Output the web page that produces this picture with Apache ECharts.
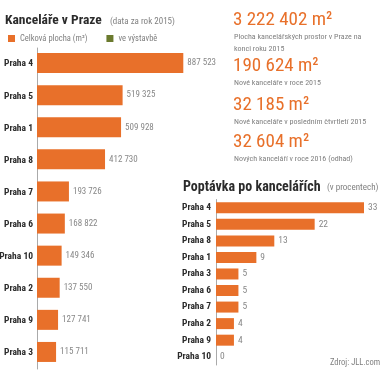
<!DOCTYPE html>
<html><head><meta charset="utf-8">
<script src="https://cdn.jsdelivr.net/npm/echarts@6/dist/echarts.min.js"></script>
<style>html,body{margin:0;padding:0;background:#fff}#c{width:384px;height:379px}</style>
</head><body><div id="c"></div>
<script>
var officeCats = ['Praha 4','Praha 5','Praha 1','Praha 8','Praha 7','Praha 6','Praha 10','Praha 2','Praha 9','Praha 3'];
var officeArea = [887523,519325,509928,412730,193726,168822,149346,137550,127741,115711];
var demandCats = ['Praha 4','Praha 5','Praha 8','Praha 1','Praha 3','Praha 6','Praha 7','Praha 2','Praha 9','Praha 10'];
var demandPct = [33,22,13,9,5,5,5,4,4,0];
var statValues = ['3 222 402 m²','190 624 m²','32 185 m²','32 604 m²'];
var statLabels = [['Plocha kancelářských prostor v Praze na','konci roku 2015'],['Nové kanceláře v roce 2015'],['Nové kanceláře v posledním čtvrtletí 2015'],['Nových kanceláří v roce 2016 (odhad)']];

var ORANGE = '#e8702a', GREEN = '#6b7a2e', GRAY = '#808080', DARK = '#2b2b2b';
var COND = '"Roboto Condensed",sans-serif';
function fmt(v){return String(v).replace(/\B(?=(\d{3})+(?!\d))/g,' ');}

var chart = echarts.init(document.getElementById('c'), null, {renderer:'canvas'});
var graphics = [
  {type:'text', left:5, top:14, style:{text:'Kanceláře v Praze', font:'bold 13.5px '+COND, fill:DARK}},
  {type:'text', left:110, top:17, style:{text:'(data za rok 2015)', font:'9px '+COND, fill:GRAY}},
  {type:'text', left:183, top:180, style:{text:'Poptávka po kancelářích', font:'bold 14px '+COND, fill:DARK}},
  {type:'text', left:327, top:183, style:{text:'(v procentech)', font:'9px '+COND, fill:GRAY}},
  {type:'text', left:330, top:358, style:{text:'Zdroj: JLL.com', font:'8.5px '+COND, fill:GRAY}}
];
var statY = [22, 68, 107, 144];
for (var i=0;i<statValues.length;i++){
  graphics.push({type:'text', left:233, top:statY[i]-11, style:{text:statValues[i], font:'19px '+COND, fill:ORANGE}});
  for (var j=0;j<statLabels[i].length;j++){
    graphics.push({type:'text', left:234, top:statY[i]+11+j*12, style:{text:statLabels[i][j], font:'8px '+COND, fill:GRAY}});
  }
}

chart.setOption({
  animation:false,
  textStyle:{fontFamily:COND},
  legend:{left:3, top:29, itemWidth:7, itemHeight:7, itemGap:19, icon:'rect',
    textStyle:{color:GRAY, fontSize:8.5, fontFamily:COND}, selectedMode:false,
    data:['Celková plocha (m²)','ve výstavbě']},
  graphic:graphics,
  grid:[
    {left:37, top:48, width:146.3, height:321, outerBoundsMode:'none', containLabel:false},
    {left:216, top:199.5, width:148, height:165.5, outerBoundsMode:'none', containLabel:false}
  ],
  xAxis:[
    {gridIndex:0, type:'value', min:0, max:887523, show:false},
    {gridIndex:1, type:'value', min:0, max:33, show:false}
  ],
  yAxis:[
    {gridIndex:0, type:'category', data:officeCats, inverse:true,
     axisLine:{lineStyle:{color:'#aaa'}}, axisTick:{show:false},
     axisLabel:{color:DARK, fontWeight:'bold', fontSize:9.5, margin:4, fontFamily:COND}},
    {gridIndex:1, type:'category', data:demandCats, inverse:true,
     axisLine:{lineStyle:{color:'#aaa'}}, axisTick:{show:false},
     axisLabel:{color:DARK, fontWeight:'bold', fontSize:9.5, margin:5, fontFamily:COND}}
  ],
  series:[
    {name:'Celková plocha (m²)', type:'bar', xAxisIndex:0, yAxisIndex:0, data:officeArea, barWidth:20,
     itemStyle:{color:ORANGE},
     label:{show:true, position:'right', distance:4, color:'#888', fontSize:9, fontFamily:COND,
       formatter:function(p){return fmt(p.value);}}},
    {name:'ve výstavbě', type:'bar', xAxisIndex:0, yAxisIndex:0, data:[], itemStyle:{color:GREEN}},
    {name:'Poptávka', type:'bar', xAxisIndex:1, yAxisIndex:1, data:demandPct, barWidth:11,
     itemStyle:{color:ORANGE},
     label:{show:true, position:'right', distance:4, color:'#888', fontSize:9.5, fontFamily:COND}}
  ]
});
</script></body></html>
